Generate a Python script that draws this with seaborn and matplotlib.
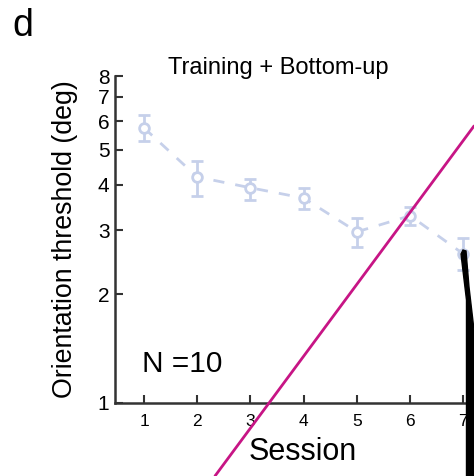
import numpy as np
import pandas as pd
import matplotlib
matplotlib.use("Agg")
import matplotlib.pyplot as plt
import seaborn as sns
from matplotlib.lines import Line2D
from matplotlib.patches import Polygon

# data
sessions = [1, 2, 3, 4, 5, 6, 7]
threshold = [5.75, 4.21, 3.93, 3.68, 2.97, 3.29, 2.58]
err_low = [5.30, 3.73, 3.64, 3.43, 2.70, 3.10, 2.33]
err_high = [6.25, 4.66, 4.16, 3.93, 3.24, 3.48, 2.86]
ytick_vals = [1, 2, 3, 4, 5, 6, 7, 8]

point_color = "#c6d0ea"

sns.set_style("ticks")
plt.rcParams['font.family'] = ['Liberation Sans', 'DejaVu Sans']
plt.rcParams['text.color'] = 'black'
plt.rcParams['axes.labelcolor'] = 'black'

W, H = 474, 476
fig = plt.figure(figsize=(W / 100, H / 100), dpi=100)
ax = fig.add_axes([115 / W, 1 - 403 / H, 375 / W, 327 / H])

df = pd.DataFrame({"session": sessions, "threshold": threshold})
yerr = np.array([np.array(threshold) - np.array(err_low),
                 np.array(err_high) - np.array(threshold)])
ax.errorbar(sessions, threshold, yerr=yerr, fmt="none", ecolor=point_color,
            elinewidth=2, capsize=4.5, capthick=2, zorder=2)
sns.lineplot(data=df, x="session", y="threshold", ax=ax, color=point_color,
             linestyle=(0, (4, 4)), linewidth=2, marker="o", markersize=7,
             markerfacecolor="white", markeredgecolor=point_color,
             markeredgewidth=2, zorder=3)

ax.set_yscale("log")
ax.set_ylim(1, 8)
ax.set_xlim(0.455, 7.5)
ax.set_yticks(ytick_vals)
ax.set_yticklabels([str(v) for v in ytick_vals])
ax.yaxis.set_minor_locator(matplotlib.ticker.NullLocator())
ax.set_xticks(sessions)
ax.tick_params(axis="y", direction="in", length=6, width=1.5, labelsize=15,
               pad=4, color="#333333", labelcolor="black")
ax.tick_params(axis="x", direction="in", length=6, width=1.5, labelsize=12.5,
               pad=8, color="#333333", labelcolor="black")
for s in ["top", "right"]:
    ax.spines[s].set_visible(False)
for s in ["left", "bottom"]:
    ax.spines[s].set_linewidth(1.8)
    ax.spines[s].set_color("#333333")

ax.set_xlabel("Session", fontsize=22, labelpad=6)
ax.set_ylabel("Orientation threshold (deg)", fontsize=19.3, labelpad=14)
fig.text(278 / W, 1 - 68 / H, "Training + Bottom-up", fontsize=17,
         ha="center", va="center")
ax.text(0.072, 0.095, "N =10", transform=ax.transAxes, fontsize=21.5,
        ha="left", va="baseline")
fig.text(12 / W, 1 - 26 / H, "d", fontsize=27, ha="left", va="center")

# overlay strokes on top of the figure
def px(x, y):
    return x / W, 1 - y / H

(x0, y0), (x1, y1) = px(215, 476), px(474, 126)
fig.add_artist(Line2D([x0, x1], [y0, y1], color="#c71585", linewidth=2,
                      transform=fig.transFigure))
wedge = [px(461, 254), px(463, 250), px(466, 251), px(469, 287), px(474, 330),
         px(480, 476), px(466.5, 476), px(466.5, 300)]
fig.add_artist(Polygon(wedge, closed=True, color="black",
                       transform=fig.transFigure))

fig.savefig("out.png", dpi=100)
